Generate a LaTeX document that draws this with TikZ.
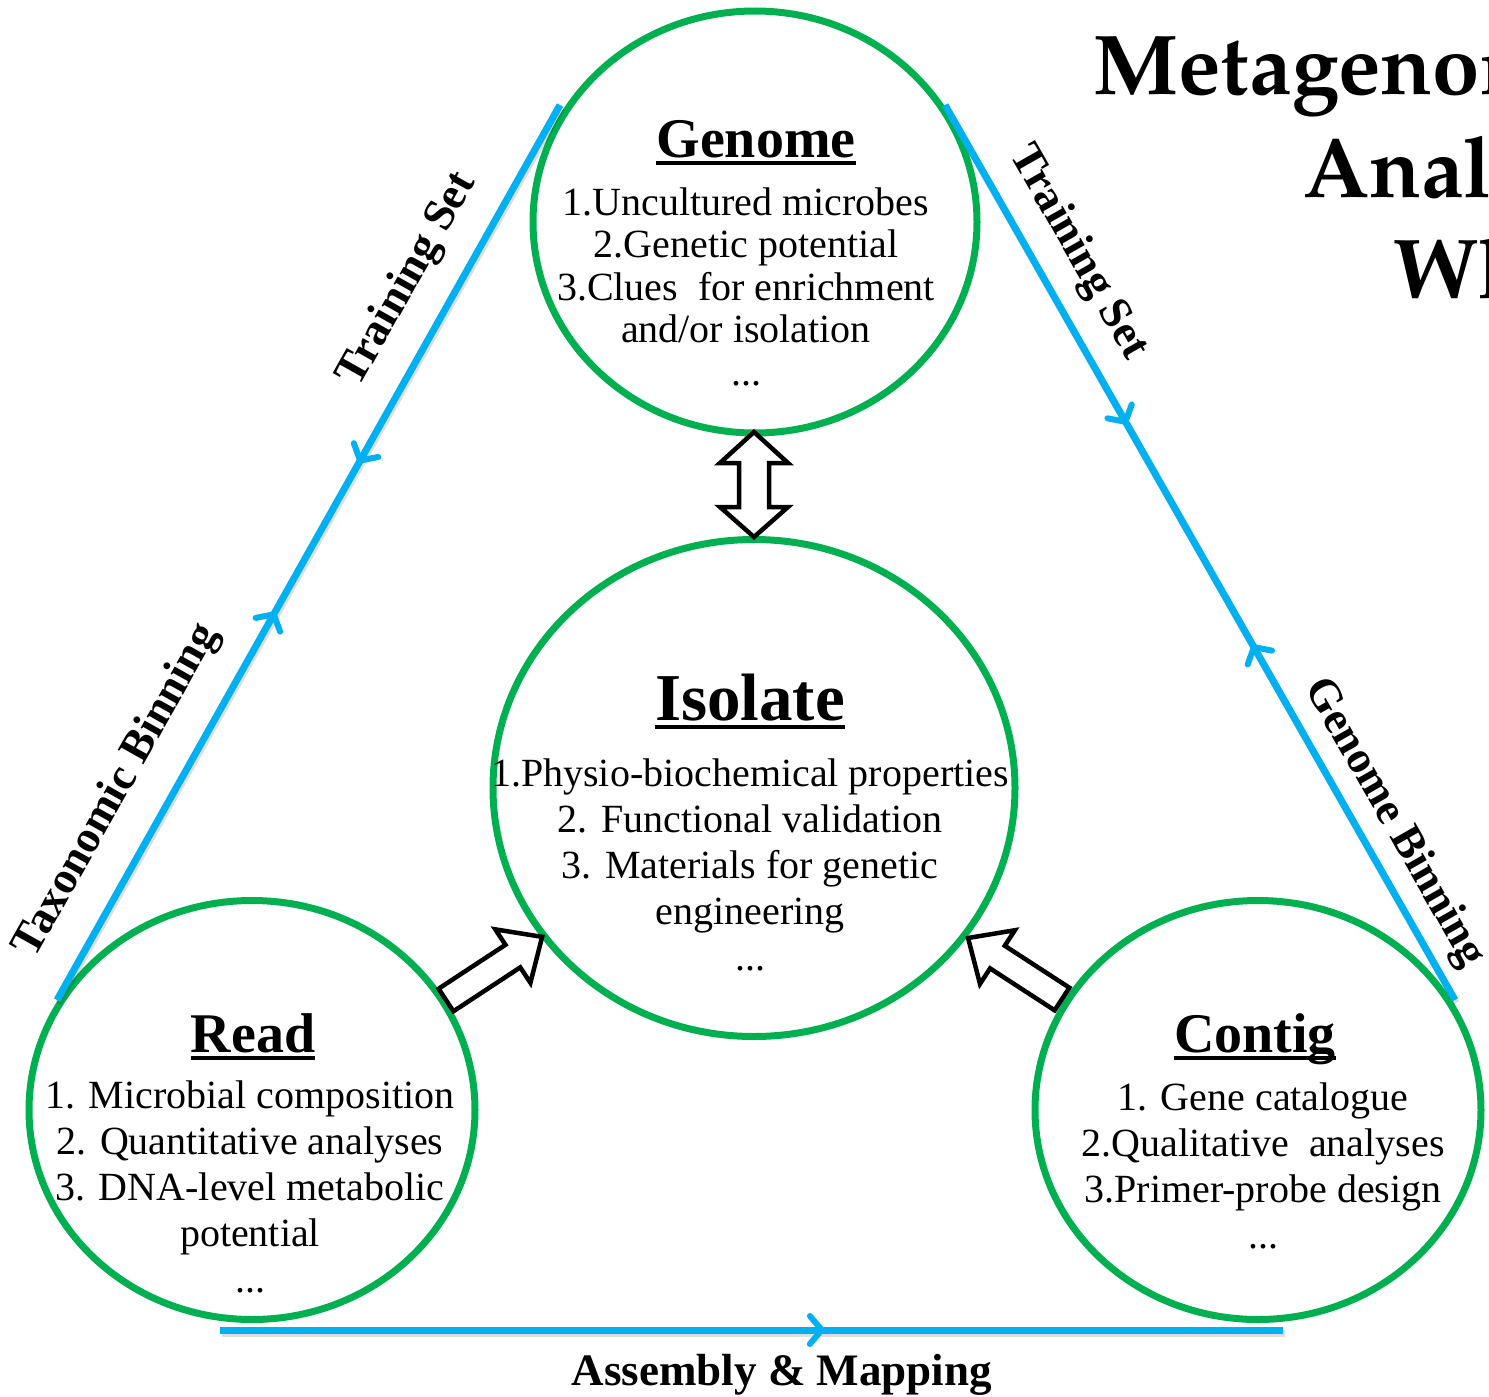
\documentclass[tikz,border=0pt]{standalone}
\usepackage{fontspec}
\setmainfont{Liberation Serif}
\newfontfamily\titlefont{texgyrepagella-bold.otf}
\usetikzlibrary{arrows.meta,decorations.markings,shapes.geometric}
\definecolor{ringgreen}{RGB}{0,176,80}
\definecolor{flowblue}{RGB}{0,176,240}
\tikzset{
  ring/.style={ellipse, draw=ringgreen, line width=7pt, inner sep=0pt, fill=none},
  flow/.style={draw=flowblue, line width=7pt},
  flowshadow/.style={draw=black, opacity=0.13, line width=7pt},
  fbarb/.tip={Straight Barb[length=12pt,width=28pt,round]},
  blockarrow/.style={draw=black, fill=white, line width=4.5pt, line join=miter},
  headtxt/.style={font=\fontsize{56}{60}\selectfont\bfseries, inner sep=0pt, anchor=base},
  bodytxt/.style={font=\fontsize{40}{46}\selectfont, align=center, inner sep=0pt, anchor=base},
  edgetxt/.style={font=\fontsize{45}{50}\selectfont\bfseries, inner sep=0pt},
  titletxt/.style={font=\titlefont\fontsize{85}{101}\selectfont, inner sep=0pt, anchor=base west},
  headline/.style={line width=3.5pt},
}
\begin{document}
\begin{tikzpicture}[x=1pt,y=-1pt]
\fill[white] (0,0) rectangle (1489,1397);
\useasboundingbox (0,0) rectangle (1489,1397);

% the four rings
\node[ring, minimum width=444pt, minimum height=422pt] (genome) at (755,222) {};
\node[ring, minimum width=522pt, minimum height=497pt] (isolate) at (754,788) {};
\node[ring, minimum width=446pt, minimum height=419pt] (read) at (252,1110) {};
\node[ring, minimum width=446pt, minimum height=419pt] (contig) at (1258,1110) {};

% end points of the triangle edges
\coordinate (gL) at (560,105);
\coordinate (rT) at (57,1000);
\coordinate (gR) at (945,105);
\coordinate (cT) at (1455,1000);
\coordinate (rB) at (220,1330);
\coordinate (cB) at (1283,1330);

% soft shadows under the blue edges
\begin{scope}[transform canvas={xshift=1.5pt,yshift=-3pt}]
  \draw[flowshadow] (rT) -- (gL);
  \draw[flowshadow] (gR) -- (cT);
  \draw[flowshadow] (rB) -- (cB);
\end{scope}

% blue edges with mid-arrows
\draw[flow, postaction={decorate, decoration={markings,
    mark=at position 0.434 with {\arrow[flowblue,line width=6pt]{fbarb}},
    mark=at position 0.60 with {\arrowreversed[flowblue,line width=6pt]{fbarb}}}}]
  (rT) -- (gL);
\draw[flow, postaction={decorate, decoration={markings,
    mark=at position 0.357 with {\arrow[flowblue,line width=6pt]{fbarb}},
    mark=at position 0.603 with {\arrowreversed[flowblue,line width=6pt]{fbarb}}}}]
  (gR) -- (cT);
\draw[flow, postaction={decorate, decoration={markings,
    mark=at position 0.569 with {\arrow[flowblue,line width=6pt]{fbarb}}}}]
  (rB) -- (cB);

% hollow block arrows
\draw[blockarrow] (754,432) -- (788,463) -- (769,463) -- (769,507) -- (788,507)
  -- (754,537) -- (720,507) -- (739,507) -- (739,463) -- (720,463) -- cycle;
\begin{scope}[shift={(446,1000)}, rotate=33.3]
  \draw[blockarrow] (0,-13.5) -- (80,-13.5) -- (80,-32) -- (115,0) -- (80,32)
    -- (80,13.5) -- (0,13.5) -- cycle;
\end{scope}
\begin{scope}[shift={(1062,999)}, rotate=147]
  \draw[blockarrow] (0,-13.5) -- (77,-13.5) -- (77,-32) -- (112,0) -- (77,32)
    -- (77,13.5) -- (0,13.5) -- cycle;
\end{scope}

% Genome
\node[headtxt] (gT) at (756,157) {Genome};
\draw[headline] ([yshift=-6pt]gT.base west) -- ([yshift=-6pt]gT.base east);
\node[bodytxt, font=\fontsize{40}{42.5}\selectfont] (gB) at (746,385)
  {1.Uncultured microbes\\2.Genetic potential\\3.Clues\ \ for enrichment\\and/or isolation\\...};

% Isolate
\node[headtxt, font=\fontsize{67}{70}\selectfont\bfseries] (iT) at (750,720) {Isolate};
\draw[headline] ([yshift=-7pt]iT.base west) -- ([yshift=-7pt]iT.base east);
\node[bodytxt] (iB) at (750,970)
  {1.Physio-biochemical properties\\2. Functional validation\\3. Materials for genetic\\engineering\\...};

% Read
\node[headtxt] (rTt) at (253,1052) {Read};
\draw[headline] ([yshift=-6pt]rTt.base west) -- ([yshift=-6pt]rTt.base east);
\node[bodytxt] (rBd) at (250,1292)
  {1. Microbial composition\\2. Quantitative analyses\\3. DNA-level metabolic\\potential\\...};

% Contig
\node[headtxt] (cTt) at (1255,1052) {Contig};
\draw[headline] ([yshift=-6pt]cTt.base west) -- ([yshift=-6pt]cTt.base east);
\node[bodytxt] (cBd) at (1263,1248)
  {1. Gene catalogue\\2.Qualitative\ \ analyses\\3.Primer-probe design\\...};

% edge labels
\node[edgetxt, rotate=60.66] (lTS) at (408,280) {Training Set};
\node[edgetxt, rotate=60.66] (lTB) at (117,791) {Taxonomic Binning};
\node[edgetxt, rotate=-60.3] (rTS) at (1078,253) {Training Set};
\node[edgetxt, rotate=-60.3] (rGB) at (1394,823) {Genome Binning};
\node[edgetxt, anchor=base] (bAM) at (782,1385) {Assembly \& Mapping};

% heading in the corner
\node[titletxt] (h1) at (1093,95) {Metagenom};
\node[titletxt] (h2) at (1303,197) {Anal};
\node[titletxt] (h3) at (1393,298) {Wh};
\end{tikzpicture}
\end{document}
